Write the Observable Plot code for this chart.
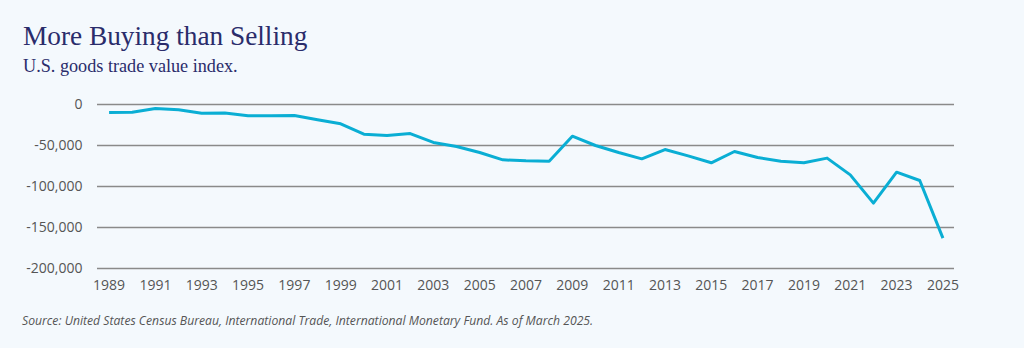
<!DOCTYPE html>
<html>
<head>
<meta charset="utf-8">
<script src="https://cdn.jsdelivr.net/npm/d3@7"></script>
<script src="https://cdn.jsdelivr.net/npm/@observablehq/plot@0.6"></script>
<style>
  html, body { margin: 0; padding: 0; background: #f4f9fd; width: 1024px; height: 348px; overflow: hidden; }
  #title { position: absolute; left: 23px; top: 20px; font-family: "Liberation Serif", serif; font-size: 27.3px; color: #2a2c6b; line-height: 32px; }
  #subtitle { position: absolute; left: 23px; top: 55px; font-family: "Liberation Serif", serif; font-size: 18.2px; color: #2a2c6b; line-height: 22px; }
  #chart { position: absolute; left: 0; top: 84px; }
  #caption { position: absolute; left: 22px; top: 313px; font-family: "Open Sans", sans-serif; font-style: italic; font-size: 12.2px; color: #555; line-height: 16px; }
</style>
</head>
<body>
<div id="title">More Buying than Selling</div>
<div id="subtitle">U.S. goods trade value index.</div>
<div id="chart"></div>
<div id="caption">Source: United States Census Bureau, International Trade, International Monetary Fund. As of March 2025.</div>
<script>
const years = [1989,1990,1991,1992,1993,1994,1995,1996,1997,1998,1999,2000,2001,2002,2003,2004,2005,2006,2007,2008,2009,2010,2011,2012,2013,2014,2015,2016,2017,2018,2019,2020,2021,2022,2023,2024,2025];
const balance = [-9800,-9400,-4900,-6500,-10600,-10500,-13800,-13700,-13400,-18700,-23600,-36200,-37800,-35400,-46300,-51200,-58500,-67500,-68700,-69100,-38600,-50000,-58500,-66300,-54900,-62600,-71100,-57300,-64600,-69100,-71100,-65400,-85800,-120300,-82500,-92700,-163000];
const xTicks = [1989,1991,1993,1995,1997,1999,2001,2003,2005,2007,2009,2011,2013,2015,2017,2019,2021,2023,2025];
const yTicks = [0,-50000,-100000,-150000,-200000];

const data = years.map((y, i) => ({year: y, value: balance[i]}));

const chart = Plot.plot({
  width: 1024,
  height: 230,
  marginLeft: 97,
  marginRight: 70,
  marginTop: 20,
  marginBottom: 46,
  style: { background: "transparent", fontFamily: "'Open Sans', sans-serif", fontSize: "14px", color: "#555" },
  x: { type: "linear", domain: [1988.5, 2025.5], ticks: xTicks, tickFormat: d => String(d), label: null },
  y: { domain: [-200000, 0], ticks: yTicks, tickFormat: d => d.toLocaleString("en-US"), label: null },
  marks: [
    Plot.ruleY(yTicks, { stroke: "#8a8a8a", strokeWidth: 1.3 }),
    Plot.axisY({ ticks: yTicks, tickSize: 0, tickPadding: 15, tickFormat: d => d.toLocaleString("en-US"), fill: "#555", fontSize: 14, label: null }),
    Plot.axisX({ ticks: xTicks, tickSize: 0, tickPadding: 12, tickFormat: d => String(d), fill: "#555", fontSize: 14, label: null }),
    Plot.line(data, { x: "year", y: "value", stroke: "#0aaed4", strokeWidth: 3, strokeLinejoin: "round", strokeLinecap: "butt" })
  ]
});
document.getElementById("chart").appendChild(chart);
</script>
</body>
</html>
